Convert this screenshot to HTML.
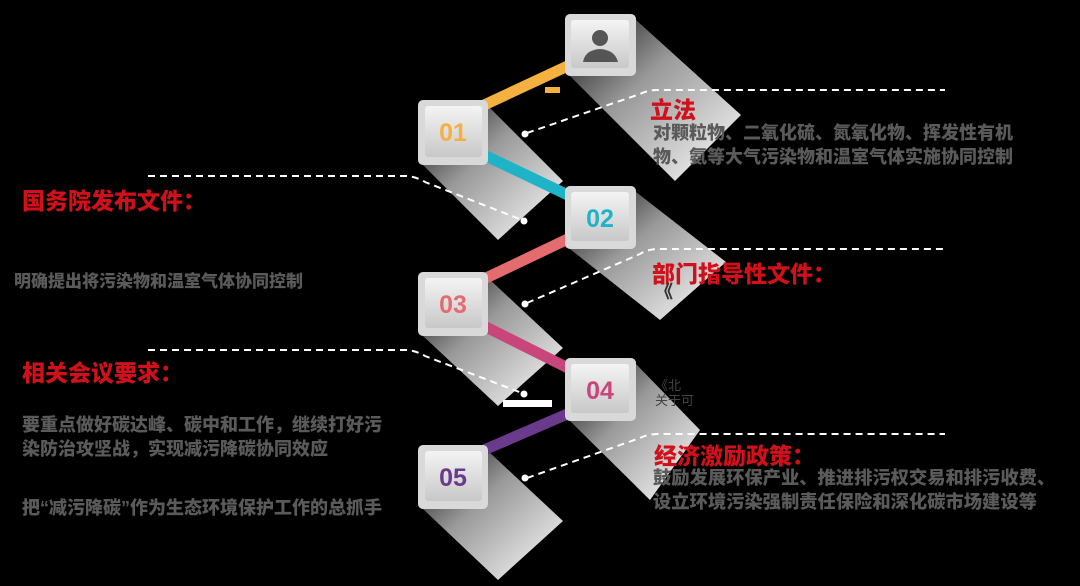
<!DOCTYPE html>
<html><head><meta charset="utf-8"><style>
body{margin:0;background:#000;width:1080px;height:586px;overflow:hidden;position:relative;font-family:"Liberation Sans","Noto Sans CJK SC",sans-serif}
.t{position:absolute;font-weight:900;white-space:nowrap}
.r{color:#d0101a;font-size:23px}
.g{color:#5a5a5a;font-size:18px;line-height:24px}
</style></head><body>
<svg width="1080" height="586" style="position:absolute;left:0;top:0">
<defs>
<linearGradient id="sh" x1="0" y1="0" x2="1" y2="1"><stop offset="0" stop-color="#111"/><stop offset="0.4" stop-color="#999"/><stop offset="0.8" stop-color="#ddd"/><stop offset="1" stop-color="#eee"/></linearGradient>
<linearGradient id="bx" x1="0" y1="0" x2="0" y2="1"><stop offset="0" stop-color="#f4f4f4"/><stop offset="1" stop-color="#c8c8c8"/></linearGradient>
</defs>
<g fill="url(#sh)">
<polygon points="636,20 570,76 675,181 741,115"/>
<polygon points="488,106 423,165 498,240 563,181"/>
<polygon points="636,192 570,249 660,320 726,262"/>
<polygon points="488,278 423,336 498,406 563,348"/>
<polygon points="636,364 570,421 650,500 700,430"/>
<polygon points="488,451 423,509 498,580 563,521"/>
</g>
<g stroke-width="11" stroke-linecap="butt">
<line x1="482" y1="106" x2="572" y2="64" stroke="#f5b13f"/>
<line x1="484" y1="155" x2="572" y2="197" stroke="#1fb3c8"/>
<line x1="572" y1="237" x2="484" y2="279" stroke="#e46b6e"/>
<line x1="484" y1="326" x2="572" y2="370" stroke="#c9467c"/>
<line x1="572" y1="412" x2="484" y2="450" stroke="#6a3a8c"/>
</g>
<rect x="545" y="87" width="15" height="6" fill="#f5b13f"/>
<rect x="503" y="400" width="49" height="7" fill="#fff"/>
<g fill="none" stroke="#fff" stroke-width="2" stroke-dasharray="7,5">
<path d="M148 176 H405 Q415 176 425 182 L522 220"/>
<path d="M148 350 H405 Q415 350 425 356 L522 393"/>
<path d="M527 133 L640 94 Q648 90 658 90 H945"/>
<path d="M527 303 L640 254 Q648 249 658 249 H945"/>
<path d="M527 478 L640 438 Q648 434 658 434 H945"/>
</g>
<g fill="#fff"><circle cx="524" cy="221" r="3.5"/><circle cx="524" cy="394" r="3.5"/><circle cx="525" cy="134" r="3.5"/><circle cx="525" cy="304" r="3.5"/><circle cx="525" cy="478" r="3.5"/></g>
<g>
<rect x="565" y="14" width="71" height="62" rx="5" fill="#d9d9d9"/><rect x="571" y="20" width="58" height="48" rx="3" fill="url(#bx)"/>
<rect x="418" y="100" width="70" height="65" rx="5" fill="#d9d9d9"/><rect x="425" y="106" width="57" height="51" rx="3" fill="url(#bx)"/>
<rect x="565" y="186" width="71" height="63" rx="5" fill="#d9d9d9"/><rect x="571" y="192" width="58" height="49" rx="3" fill="url(#bx)"/>
<rect x="418" y="272" width="70" height="64" rx="5" fill="#d9d9d9"/><rect x="425" y="278" width="57" height="50" rx="3" fill="url(#bx)"/>
<rect x="565" y="358" width="71" height="63" rx="5" fill="#d9d9d9"/><rect x="571" y="364" width="58" height="49" rx="3" fill="url(#bx)"/>
<rect x="418" y="445" width="70" height="64" rx="5" fill="#d9d9d9"/><rect x="425" y="451" width="57" height="50" rx="3" fill="url(#bx)"/>
</g>
<g fill="#555"><circle cx="600" cy="38" r="8"/><path d="M583 62 Q585 50 600 49 Q615 50 618 62 Z"/></g>
<g font-family="Liberation Sans" font-weight="bold" font-size="25" text-anchor="middle">
<text x="453" y="141" fill="#f5b13f">01</text>
<text x="600" y="227" fill="#1fb3c8">02</text>
<text x="453" y="313" fill="#e46b6e">03</text>
<text x="600" y="399" fill="#c9467c">04</text>
<text x="453" y="486" fill="#6a3a8c">05</text>
</g>
</svg>
<div class="t r" style="left:650px;top:91px">立法</div>
<div class="t g" style="left:653px;top:121px">对颗粒物、二氧化硫、氮氧化物、挥发性有机<br>物、氨等大气污染物和温室气体实施协同控制</div>
<div class="t r" style="left:22px;top:182px">国务院发布文件：</div>
<div class="t g" style="left:14px;top:270px;font-size:17px">明确提出将污染物和温室气体协同控制</div>
<div class="t r" style="left:652px;top:255px">部门指导性文件：</div>
<div class="t g" style="left:655px;top:280px;color:#333">《</div>
<div class="t r" style="left:22px;top:354px">相关会议要求：</div>
<div class="t g" style="left:655px;top:378px;font-weight:normal;font-size:13px;line-height:15px;color:#444">《北<br>关于可</div>
<div class="t g" style="left:22px;top:413px">要重点做好碳达峰、碳中和工作，继续打好污<br>染防治攻坚战，实现减污降碳协同效应</div>
<div class="t r" style="left:654px;top:437px">经济激励政策：</div>
<div class="t g" style="left:653px;top:466px;font-size:18.3px">鼓励发展环保产业、推进排污权交易和排污收费、<br>设立环境污染强制责任保险和深化碳市场建设等</div>
<div class="t g" style="left:22px;top:496px">把“减污降碳”作为生态环境保护工作的总抓手</div>
</body></html>
